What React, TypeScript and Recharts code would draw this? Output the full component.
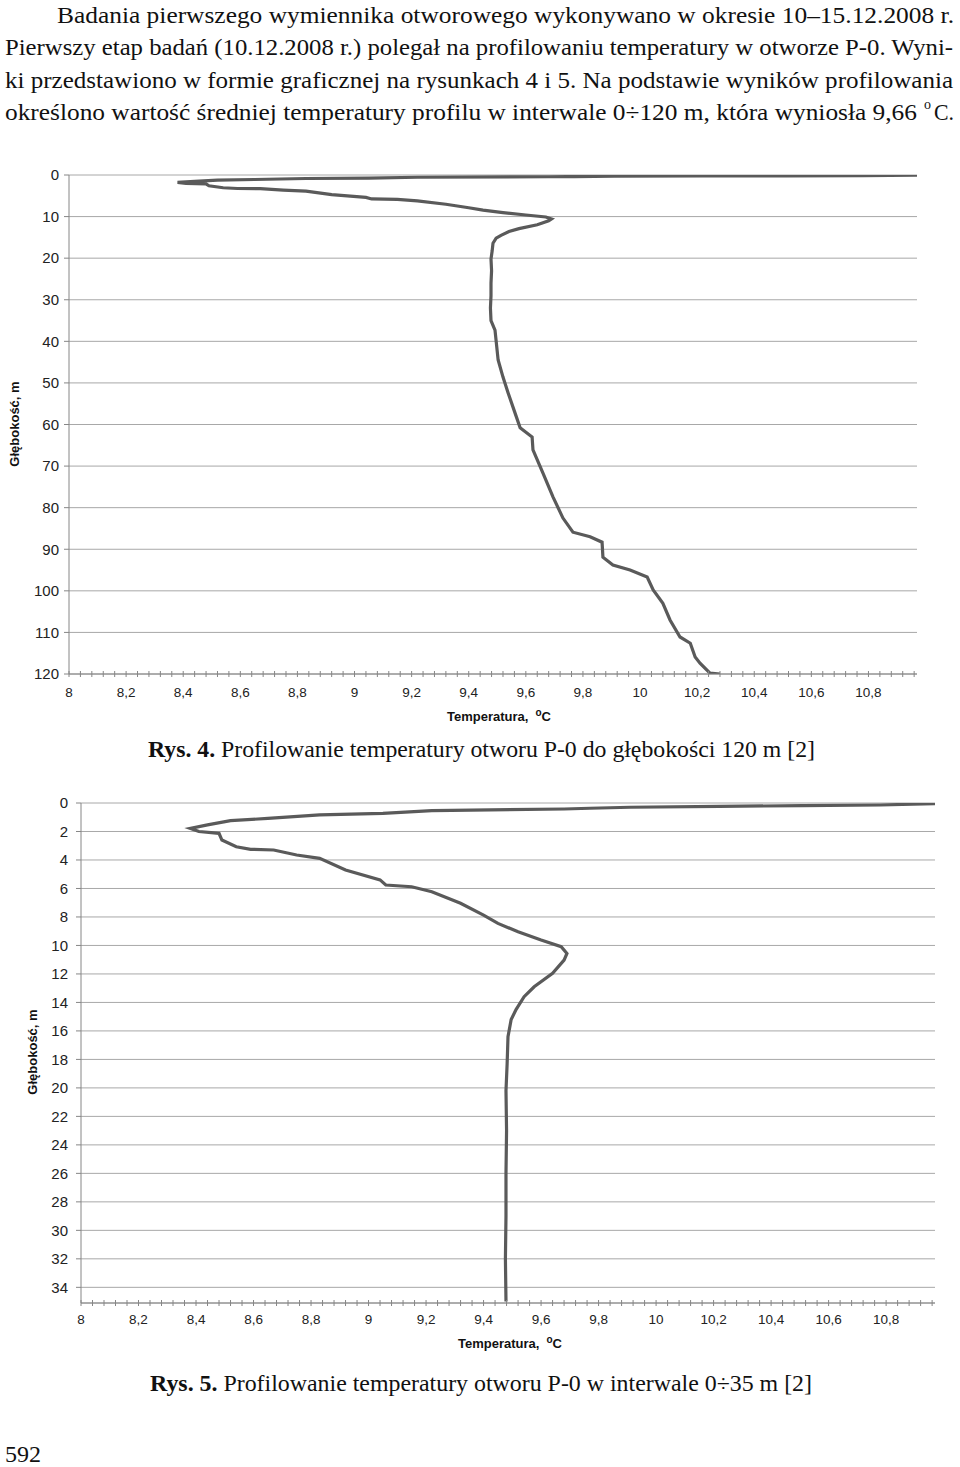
import React from 'react';
import { LineChart, Line, XAxis, YAxis, CartesianGrid } from 'recharts';

// profil 0–35 m (Rys. 5, także górna część Rys. 4)
const depthTop = [0.05, 0.14, 0.19, 0.23, 0.3, 0.37, 0.42, 0.54, 0.73, 0.84, 1.08, 1.24, 1.54, 1.78, 2.0, 2.13, 2.6, 3.07, 3.25, 3.3, 3.65, 3.89, 4.7, 5.4, 5.76, 5.88, 6.23, 7.04, 7.87, 8.45, 9.04, 9.62, 10.09, 10.56, 11.03, 11.96, 12.9, 13.6, 14.5, 15.2, 16.4, 18.3, 20.2, 23, 26, 29, 32, 35];
const tempTop = [10.97, 10.78, 10.51, 10.22, 9.91, 9.77, 9.68, 9.22, 9.05, 8.83, 8.65, 8.52, 8.44, 8.38, 8.41, 8.48, 8.49, 8.54, 8.59, 8.67, 8.75, 8.83, 8.92, 9.04, 9.06, 9.15, 9.22, 9.32, 9.40, 9.45, 9.52, 9.60, 9.67, 9.69, 9.68, 9.64, 9.576, 9.541, 9.513, 9.496, 9.485, 9.482, 9.478, 9.48, 9.478, 9.478, 9.476, 9.478];

// profil 35–120 m (Rys. 4)
const depthDeep = [37.3, 44.5, 48.6, 52.4, 57.2, 60.8, 63, 66.1, 71.7, 77.4, 82.5, 85.9, 87, 88.3, 91.9, 93.8, 95, 96.7, 99.8, 103, 107, 111.1, 112.6, 115.9, 117.4, 119.8, 120];
const tempDeep = [9.492, 9.503, 9.52, 9.538, 9.562, 9.58, 9.622, 9.625, 9.66, 9.695, 9.73, 9.765, 9.825, 9.867, 9.87, 9.905, 9.965, 10.025, 10.046, 10.08, 10.105, 10.14, 10.176, 10.193, 10.21, 10.245, 10.28];

const tempLabels = [8, 8.2, 8.4, 8.6, 8.8, 9, 9.2, 9.4, 9.6, 9.8, 10, 10.2, 10.4, 10.6, 10.8];
const depthTicks120 = [0, 10, 20, 30, 40, 50, 60, 70, 80, 90, 100, 110, 120];
const depthTicks35 = [0, 2, 4, 6, 8, 10, 12, 14, 16, 18, 20, 22, 24, 26, 28, 30, 32, 34];

const TEMP_MAX = 10.97;
const minorTicks: number[] = [];
for (let i = 0; 8 + i * 0.04 <= TEMP_MAX + 1e-9; i++) minorTicks.push(Math.round((8 + i * 0.04) * 100) / 100);

const profileTop = depthTop.map((d, i) => ({ temp: tempTop[i], depth: d }));
const profileFull = [...profileTop.filter(p => p.depth < 36), ...depthDeep.map((d, i) => ({ temp: tempDeep[i], depth: d }))];

const fmt = (v: number) => String(Math.round(v * 10) / 10).replace('.', ',');
const isMajor = (v: number) => tempLabels.some(t => Math.abs(t - v) < 1e-6);

const SANS = '"Liberation Sans", Arial, sans-serif';
const SERIF = '"Liberation Serif", "Times New Roman", serif';
const AXIS = '#868686';
const GRID = '#a8a8a8';
const LINE = '#5a5a5a';

const TempTick = (props: any) => {
    const { x, y, payload, labelDy } = props;
    const v = payload.value;
    return (
        <g>
            <line x1={x} x2={x} y1={y - 3} y2={y + 3} stroke={AXIS} strokeWidth={1} />
            {isMajor(v) && (
                <text x={x} y={y + labelDy} textAnchor="middle" fontFamily={SANS} fontSize={13.5} fill="#222">
                    {fmt(v)}
                </text>
            )}
        </g>
    );
};

interface ProfileProps {
    data: { temp: number; depth: number }[];
    top: number;
    height: number;
    yWidth: number;
    rightMargin: number;
    topMargin: number;
    xAxisHeight: number;
    depthMax: number;
    depthTicks: number[];
    labelDy: number;
    tickMargin: number;
}

const Profile: React.FC<ProfileProps> = ({ data, top, height, yWidth, rightMargin, topMargin, xAxisHeight, depthMax, depthTicks, labelDy, tickMargin }) => (
    <div style={{ position: 'absolute', left: 0, top }}>
        <LineChart width={960} height={height} data={data} margin={{ top: topMargin, right: rightMargin, bottom: 0, left: 0 }}>
            <CartesianGrid vertical={false} stroke={GRID} />
            <XAxis
                type="number"
                dataKey="temp"
                domain={[8, TEMP_MAX]}
                ticks={minorTicks}
                interval={0}
                allowDataOverflow
                height={xAxisHeight}
                tickSize={0}
                tickMargin={0}
                tickLine={false}
                axisLine={{ stroke: AXIS }}
                tick={(p: any) => <TempTick {...p} labelDy={labelDy} />}
            />
            <YAxis
                type="number"
                reversed
                domain={[0, depthMax]}
                ticks={depthTicks}
                interval={0}
                allowDataOverflow
                width={yWidth}
                tickSize={5}
                tickMargin={tickMargin}
                tickLine={{ stroke: AXIS }}
                axisLine={{ stroke: AXIS }}
                tick={{ fill: '#222', fontSize: 15, fontFamily: SANS }}
            />
            <Line
                type="linear"
                dataKey="depth"
                stroke={LINE}
                strokeWidth={3.2}
                dot={false}
                activeDot={false}
                isAnimationActive={false}
            />
        </LineChart>
    </div>
);

const App: React.FC = () => {
    return (
        <div style={{ position: 'absolute', left: 0, top: 0, width: 960, height: 1467, background: '#fff', overflow: 'hidden' }}>
            <Profile
                data={profileFull}
                top={150}
                height={580}
                yWidth={69}
                rightMargin={43}
                topMargin={25}
                xAxisHeight={56}
                depthMax={120}
                depthTicks={depthTicks120}
                labelDy={23}
                tickMargin={5}
            />
            <Profile
                data={profileTop}
                top={780}
                height={580}
                yWidth={81}
                rightMargin={25}
                topMargin={23}
                xAxisHeight={57}
                depthMax={35.1}
                depthTicks={depthTicks35}
                labelDy={21}
                tickMargin={8}
            />
            <svg width={960} height={1467} style={{ position: 'absolute', left: 0, top: 0, pointerEvents: 'none' }}>
                <g fontFamily={SERIF} fontSize={24} fill="#111">
                    <text x={57} y={23} textLength={897} lengthAdjust="spacingAndGlyphs">
                        Badania pierwszego wymiennika otworowego wykonywano w okresie 10–15.12.2008 r.
                    </text>
                    <text x={5} y={55} textLength={948} lengthAdjust="spacingAndGlyphs">
                        Pierwszy etap badań (10.12.2008 r.) polegał na profilowaniu temperatury w otworze P-0. Wyni-
                    </text>
                    <text x={5} y={88} textLength={948} lengthAdjust="spacingAndGlyphs">
                        ki przedstawiono w formie graficznej na rysunkach 4 i 5. Na podstawie wyników profilowania
                    </text>
                    <text x={5} y={120} textLength={912} lengthAdjust="spacingAndGlyphs">
                        określono wartość średniej temperatury profilu w interwale 0÷120 m, która wyniosła 9,66
                    </text>
                    <text x={924} y={109} fontSize={14}>o</text>
                    <text x={934} y={120} textLength={20} lengthAdjust="spacingAndGlyphs">C.</text>

                    <text x={148} y={757} textLength={667} lengthAdjust="spacingAndGlyphs">
                        <tspan fontWeight="bold">Rys. 4.</tspan> Profilowanie temperatury otworu P-0 do głębokości 120 m [2]
                    </text>
                    <text x={150} y={1391} textLength={662} lengthAdjust="spacingAndGlyphs">
                        <tspan fontWeight="bold">Rys. 5.</tspan> Profilowanie temperatury otworu P-0 w interwale 0÷35 m [2]
                    </text>
                    <text x={5} y={1462}>592</text>
                </g>

                <g fontFamily={SANS} fontSize={13} fontWeight="bold" fill="#111">
                    <text x={499} y={721} textAnchor="middle">
                        Temperatura,<tspan dx={7} dy={-5} fontSize={10}>o</tspan><tspan dy={5}>C</tspan>
                    </text>
                    <text x={510} y={1348} textAnchor="middle">
                        Temperatura,<tspan dx={7} dy={-5} fontSize={10}>o</tspan><tspan dy={5}>C</tspan>
                    </text>
                    <text x={14} y={424} textAnchor="middle" dominantBaseline="central" transform="rotate(-90 14 424)">
                        Głębokość, m
                    </text>
                    <text x={32} y={1052} textAnchor="middle" dominantBaseline="central" transform="rotate(-90 32 1052)">
                        Głębokość, m
                    </text>
                </g>
            </svg>
        </div>
    );
};

export default App;
